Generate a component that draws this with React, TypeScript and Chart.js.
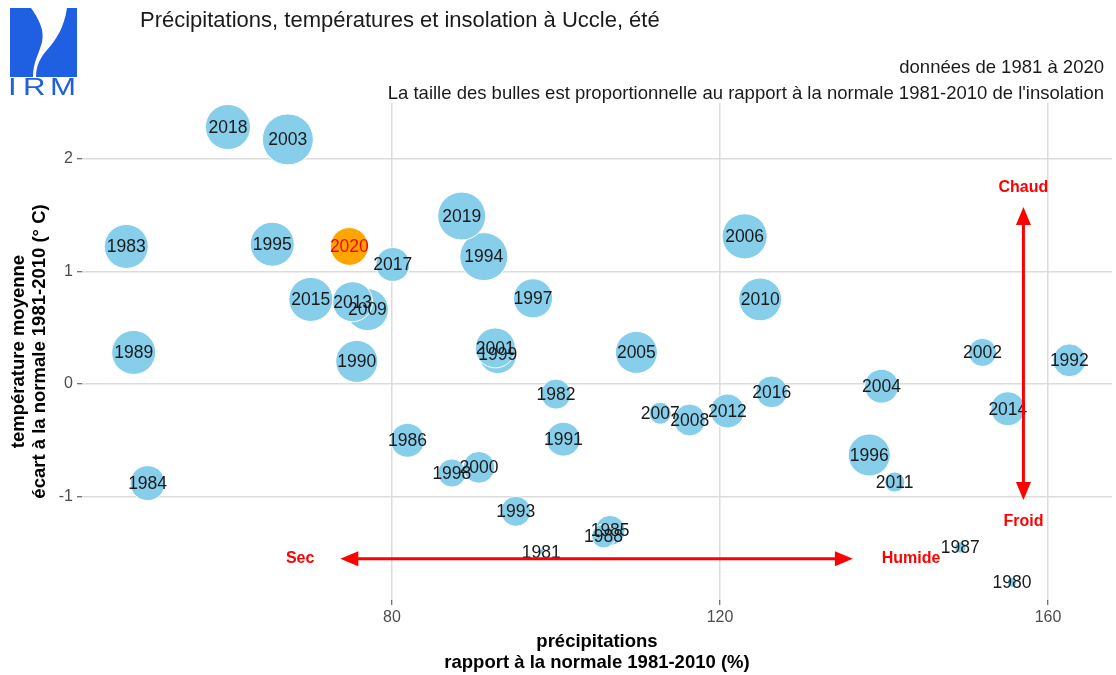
import React, { useEffect, useRef } from 'react';
import { Chart, registerables } from 'chart.js';

Chart.register(...registerables);

// ---------- data ----------
const years = [
  1980, 1981, 1982, 1983, 1984, 1985, 1986, 1987, 1988, 1989,
  1990, 1991, 1992, 1993, 1994, 1995, 1996, 1997, 1998, 1999,
  2000, 2001, 2002, 2003, 2004, 2005, 2006, 2007, 2008, 2009,
  2010, 2011, 2012, 2013, 2014, 2015, 2016, 2017, 2018, 2019, 2020,
];
// precipitation, % of the 1981-2010 normal
const precipitation = [
  155.6, 98.2, 100.0, 47.6, 50.2, 106.6, 81.9, 149.3, 105.8, 48.5,
  75.7, 100.9, 162.6, 95.1, 91.2, 65.4, 138.2, 97.2, 87.3, 92.9,
  90.6, 92.6, 152.0, 67.3, 139.7, 109.8, 123.0, 112.7, 116.3, 77.0,
  124.9, 141.3, 120.9, 75.2, 155.1, 70.1, 126.3, 80.1, 60.0, 88.5, 74.8,
];
// mean temperature anomaly (°C)
const temperature = [
  -1.76, -1.49, -0.09, 1.22, -0.88, -1.30, -0.50, -1.45, -1.35, 0.28,
  0.20, -0.49, 0.21, -1.13, 1.13, 1.24, -0.63, 0.76, -0.79, 0.26,
  -0.74, 0.32, 0.28, 2.17, -0.02, 0.28, 1.31, -0.26, -0.32, 0.66,
  0.75, -0.87, -0.24, 0.73, -0.22, 0.75, -0.07, 1.06, 2.28, 1.49, 1.22,
];
// sunshine duration, % of the 1981-2010 normal (bubble size)
const sunshine = [
  70.5, 70, 90, 120, 99, 90, 97, 71, 81, 120,
  115, 97, 95, 90, 131, 120, 115, 108, 87, 105,
  93, 110, 87, 140, 97, 115, 123, 79, 93, 115,
  117, 77, 97, 110, 97, 120, 93, 97, 123, 131, 105,
];
const highlightYear = 2020;
const xTicks = [80, 120, 160];
const yTicks = [-1, 0, 1, 2];

// annotation anchors (data units)
const warmColdArrow = { x: 157.0, top: 1.57, bottom: -1.03, warmLabel: 1.74, coldLabel: -1.22 };
const dryWetArrow = { y: -1.55, left: 73.7, right: 136.2, dryLabel: 68.8, wetLabel: 143.3 };

const FONT = '"Liberation Sans", Arial, Helvetica, sans-serif';
const TITLE = 'Précipitations, températures et insolation à Uccle, été';
const SUB1 = 'données de 1981 à 2020';
const SUB2 = "La taille des bulles est proportionnelle au rapport à la normale 1981-2010 de l'insolation";

const sMin = Math.min(...sunshine);
const sMax = Math.max(...sunshine);
const radiusOf = (v: number) => 3 + 22.5 * Math.sqrt((v - sMin) / (sMax - sMin));

function arrowHead(ctx: CanvasRenderingContext2D, tx: number, ty: number, dx: number, dy: number) {
  const len = 18, half = 7.5;
  const bx = tx - dx * len, by = ty - dy * len;
  const px = -dy, py = dx;
  ctx.beginPath();
  ctx.moveTo(tx, ty);
  ctx.lineTo(bx + px * half, by + py * half);
  ctx.lineTo(bx - px * half, by - py * half);
  ctx.closePath();
  ctx.fill();
}

function drawLogo(ctx: CanvasRenderingContext2D) {
  const blue = '#1f5fe2';
  ctx.save();
  ctx.fillStyle = blue;
  // left piece
  ctx.beginPath();
  ctx.moveTo(10, 8);
  ctx.lineTo(31, 8);
  ctx.bezierCurveTo(38, 18, 45, 30, 42, 42);
  ctx.bezierCurveTo(39, 54, 33, 62, 33, 77);
  ctx.lineTo(10, 77);
  ctx.closePath();
  ctx.fill();
  // right piece
  ctx.beginPath();
  ctx.moveTo(67, 8);
  ctx.lineTo(77, 8);
  ctx.lineTo(77, 77);
  ctx.lineTo(36, 77);
  ctx.bezierCurveTo(36, 66, 40, 58, 47, 50);
  ctx.bezierCurveTo(56, 40, 64, 28, 67, 8);
  ctx.closePath();
  ctx.fill();
  // IRM letters
  ctx.font = `24px ${FONT}`;
  ctx.textBaseline = 'alphabetic';
  ctx.textAlign = 'left';
  const letters: [string, number][] = [['I', 8], ['R', 23], ['M', 50]];
  letters.forEach(([ch, x]) => {
    ctx.save();
    ctx.translate(x, 95);
    ctx.scale(1.3, 1);
    ctx.fillText(ch, 0, 0);
    ctx.restore();
  });
  ctx.restore();
}

const overlayPlugin = {
  id: 'overlay',
  afterDatasetsDraw(chart: any) {
    const ctx: CanvasRenderingContext2D = chart.ctx;
    const xs = chart.scales.x;
    const ys = chart.scales.y;
    const meta = chart.getDatasetMeta(0);
    ctx.save();
    // year labels
    ctx.font = `17.5px ${FONT}`;
    ctx.textAlign = 'center';
    ctx.textBaseline = 'middle';
    meta.data.forEach((el: any, i: number) => {
      ctx.fillStyle = years[i] === highlightYear ? '#ff0000' : '#1a1a1a';
      ctx.fillText(String(years[i]), el.x, el.y + 1);
    });

    // arrows
    ctx.strokeStyle = '#ff0000';
    ctx.fillStyle = '#ff0000';
    ctx.lineWidth = 3;
    // vertical
    const vx = xs.getPixelForValue(warmColdArrow.x);
    const vTop = ys.getPixelForValue(warmColdArrow.top);
    const vBot = ys.getPixelForValue(warmColdArrow.bottom);
    ctx.beginPath();
    ctx.moveTo(vx, vTop + 10);
    ctx.lineTo(vx, vBot - 10);
    ctx.stroke();
    arrowHead(ctx, vx, vTop, 0, -1);
    arrowHead(ctx, vx, vBot, 0, 1);
    // horizontal
    const hy = ys.getPixelForValue(dryWetArrow.y);
    const hL = xs.getPixelForValue(dryWetArrow.left);
    const hR = xs.getPixelForValue(dryWetArrow.right);
    ctx.beginPath();
    ctx.moveTo(hL + 10, hy);
    ctx.lineTo(hR - 10, hy);
    ctx.stroke();
    arrowHead(ctx, hL, hy, -1, 0);
    arrowHead(ctx, hR, hy, 1, 0);

    ctx.font = `bold 16px ${FONT}`;
    ctx.textAlign = 'center';
    ctx.textBaseline = 'middle';
    ctx.fillText('Chaud', vx, ys.getPixelForValue(warmColdArrow.warmLabel));
    ctx.fillText('Froid', vx, ys.getPixelForValue(warmColdArrow.coldLabel));
    ctx.fillText('Sec', xs.getPixelForValue(dryWetArrow.dryLabel), hy);
    ctx.fillText('Humide', xs.getPixelForValue(dryWetArrow.wetLabel), hy);
    ctx.restore();
  },
  afterDraw(chart: any) {
    const ctx: CanvasRenderingContext2D = chart.ctx;
    ctx.save();
    ctx.fillStyle = '#1a1a1a';
    ctx.textBaseline = 'middle';
    ctx.textAlign = 'left';
    ctx.font = `22px ${FONT}`;
    ctx.fillText(TITLE, 140, 21);
    ctx.textAlign = 'right';
    ctx.font = `18.5px ${FONT}`;
    ctx.fillText(SUB1, 1104, 68);
    ctx.fillText(SUB2, 1104, 94);
    ctx.restore();
    drawLogo(ctx);
  },
};

export default function App() {
  const canvasRef = useRef<HTMLCanvasElement | null>(null);

  useEffect(() => {
    if (!canvasRef.current) return;
    Chart.defaults.font.family = FONT;
    const chart = new Chart(canvasRef.current, {
      type: 'bubble',
      data: {
        datasets: [
          {
            data: years.map((_, i) => ({ x: precipitation[i], y: temperature[i], r: radiusOf(sunshine[i]) })),
            backgroundColor: years.map((y) => (y === highlightYear ? '#FFA500' : '#87CEEB')),
            borderColor: '#ffffff',
            borderWidth: 1,
          },
        ],
      },
      options: {
        animation: false,
        responsive: false,
        events: [],
        layout: { autoPadding: false, padding: { top: 103, right: 4, left: 0, bottom: 0 } },
        plugins: {
          legend: { display: false },
          tooltip: { enabled: false },
          title: { display: false },
        },
        scales: {
          x: {
            type: 'linear',
            min: 42.2,
            max: 167.8,
            afterBuildTicks: (s: any) => {
              s.ticks = xTicks.map((v) => ({ value: v }));
            },
            afterFit: (s: any) => {
              s.height = 75;
              s.paddingLeft = 0;
              s.paddingRight = 0;
            },
            border: { display: false },
            grid: { color: '#dcdcdc', lineWidth: 1.5, tickLength: 5, tickColor: '#444', tickWidth: 1 },
            ticks: { font: { size: 16 }, color: '#4d4d4d', padding: 3, maxRotation: 0 },
            title: {
              display: true,
              text: ['précipitations', 'rapport à la normale 1981-2010 (%)'],
              font: { size: 18.5, weight: 'bold', lineHeight: 1.15 },
              color: '#000',
              padding: { top: 0, bottom: 1 },
            },
          },
          y: {
            type: 'linear',
            min: -1.917,
            max: 2.493,
            afterBuildTicks: (s: any) => {
              s.ticks = yTicks.map((v) => ({ value: v }));
            },
            afterFit: (s: any) => {
              s.width = 82;
              s.paddingTop = 0;
              s.paddingBottom = 0;
            },
            border: { display: false },
            grid: { color: '#dcdcdc', lineWidth: 1.5, tickLength: 5, tickColor: '#444', tickWidth: 1 },
            ticks: { font: { size: 16 }, color: '#4d4d4d', padding: 4 },
            title: {
              display: true,
              text: ['température moyenne', 'écart à la normale 1981-2010 (° C)'],
              font: { size: 18.5, weight: 'bold', lineHeight: 1.15 },
              color: '#000',
              padding: { top: 8, bottom: 0 },
            },
          },
        },
      },
      plugins: [overlayPlugin],
    } as any);
    return () => chart.destroy();
  }, []);

  return (
    <div style={{ position: 'fixed', left: 0, top: 0, width: 1116, height: 675, background: '#fff' }}>
      <canvas ref={canvasRef} width={1116} height={675} style={{ display: 'block' }} />
    </div>
  );
}
